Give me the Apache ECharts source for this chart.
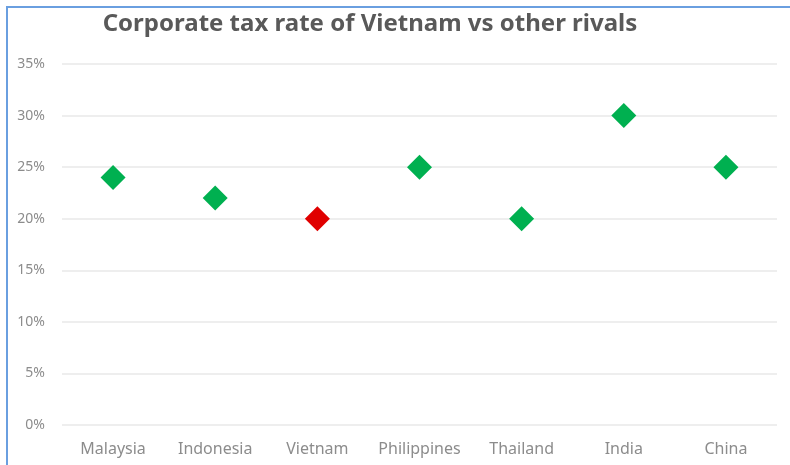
<!DOCTYPE html>
<html>
<head>
<meta charset="utf-8">
<script src="https://cdn.jsdelivr.net/npm/echarts@6/dist/echarts.min.js"></script>
<style>
  html, body { margin: 0; padding: 0; background: #fff; }
  #frame { position: absolute; left: 6px; top: 6px; width: 800px; height: 480px;
           border-left: 2px solid #6a9fe0; border-top: 2px solid #6a9fe0; box-sizing: border-box; }
  #chart { position: absolute; left: 0; top: 0; width: 790px; height: 465px; }
</style>
</head>
<body>
<div id="frame"></div>
<div id="chart"></div>
<script>
const countries = ['Malaysia', 'Indonesia', 'Vietnam', 'Philippines', 'Thailand', 'India', 'China'];
const taxRates = [24, 22, 20, 25, 20, 30, 25];
const highlight = 'Vietnam';
const titleText = 'Corporate tax rate of Vietnam vs other rivals';

const chart = echarts.init(document.getElementById('chart'), null, { renderer: 'canvas' });
chart.setOption({
  backgroundColor: 'transparent',
  animation: false,
  title: {
    text: titleText,
    left: 365, top: 7, textAlign: 'center',
    textStyle: { fontFamily: 'Noto Sans', fontWeight: 'bold', fontSize: 24, color: '#595959' }
  },
  grid: { left: 62, right: 13, top: 64, bottom: 40 },
  xAxis: {
    type: 'category',
    data: countries,
    axisLine: { show: false },
    axisTick: { show: false },
    axisLabel: { interval: 0, hideOverlap: false, color: '#8c8c8c', fontSize: 16,
                 fontFamily: 'Noto Sans', margin: 16 }
  },
  yAxis: {
    type: 'value',
    min: 0, max: 35, interval: 5,
    axisLine: { show: false },
    axisTick: { show: false },
    splitLine: { lineStyle: { color: '#e9e9e9', width: 1.5 } },
    axisLabel: { color: '#8c8c8c', fontSize: 14, fontFamily: 'Noto Sans', margin: 17,
                 formatter: v => v + '%' }
  },
  series: [{
    type: 'scatter',
    symbol: 'diamond',
    symbolSize: 25,
    data: taxRates.map((v, i) => ({
      value: v,
      itemStyle: { opacity: 1, color: countries[i] === highlight ? '#e00000' : '#00b050' }
    }))
  }]
});
</script>
</body>
</html>
